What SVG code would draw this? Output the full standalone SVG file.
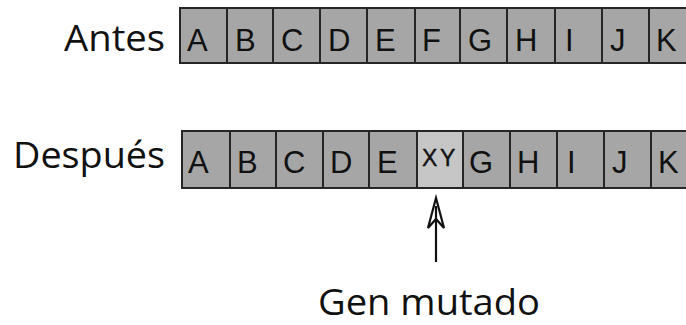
<svg xmlns="http://www.w3.org/2000/svg" width="686" height="325" viewBox="0 0 686 325">
  <style>
    .cell { fill: #a6a6a6; stroke: #262626; stroke-width: 2; }
    .cell.mut { fill: #c6c6c6; }
    .gene { font-family: "Liberation Sans", Arial, sans-serif; font-size: 31px; fill: #111; }
    .gene.small { font-size: 23px; stroke: #111; stroke-width: 0.4; }
    .label { font-family: "Open Sans", "Noto Sans", sans-serif; font-size: 37px; fill: #111; }
    .arrow { fill: none; stroke: #111; stroke-width: 2.2; stroke-linejoin: miter; }
  </style>

  <!-- Row labels -->
  <g id="label-antes"><text class="label" x="165" y="51" text-anchor="end" textLength="101" lengthAdjust="spacingAndGlyphs">Antes</text></g>
  <g id="label-despues"><text class="label" x="165" y="168" text-anchor="end" textLength="152" lengthAdjust="spacingAndGlyphs">Después</text></g>

  <!-- Chromosome before mutation -->
  <g id="row-antes">
    <rect class="cell" x="180" y="8" width="47" height="55"/>
    <rect class="cell" x="227" y="8" width="46" height="55"/>
    <rect class="cell" x="273" y="8" width="47" height="55"/>
    <rect class="cell" x="320" y="8" width="47" height="55"/>
    <rect class="cell" x="367" y="8" width="48" height="55"/>
    <rect class="cell" x="415" y="8" width="45" height="55"/>
    <rect class="cell" x="460" y="8" width="47" height="55"/>
    <rect class="cell" x="507" y="8" width="48" height="55"/>
    <rect class="cell" x="555" y="8" width="47" height="55"/>
    <rect class="cell" x="602" y="8" width="47" height="55"/>
    <rect class="cell" x="649" y="8" width="47" height="55"/>
    <text class="gene" x="187" y="51">A</text>
    <text class="gene" x="235" y="51">B</text>
    <text class="gene" x="281" y="51">C</text>
    <text class="gene" x="328" y="51">D</text>
    <text class="gene" x="375" y="51">E</text>
    <text class="gene" x="422" y="51">F</text>
    <text class="gene" x="468" y="51">G</text>
    <text class="gene" x="515" y="51">H</text>
    <text class="gene" x="565" y="51">I</text>
    <text class="gene" x="610" y="51">J</text>
    <text class="gene" x="656" y="51">K</text>
  </g>

  <!-- Chromosome after mutation -->
  <g id="row-despues">
    <rect class="cell" x="182" y="131" width="48" height="57"/>
    <rect class="cell" x="230" y="131" width="46" height="57"/>
    <rect class="cell" x="276" y="131" width="47" height="57"/>
    <rect class="cell" x="323" y="131" width="46" height="57"/>
    <rect class="cell" x="369" y="131" width="48" height="57"/>
    <rect class="cell mut" x="417" y="131" width="46" height="57"/>
    <rect class="cell" x="463" y="131" width="47" height="57"/>
    <rect class="cell" x="510" y="131" width="47" height="57"/>
    <rect class="cell" x="557" y="131" width="47" height="57"/>
    <rect class="cell" x="604" y="131" width="47" height="57"/>
    <rect class="cell" x="651" y="131" width="47" height="57"/>
    <text class="gene" x="188" y="173">A</text>
    <text class="gene" x="237" y="173">B</text>
    <text class="gene" x="283" y="173">C</text>
    <text class="gene" x="330" y="173">D</text>
    <text class="gene" x="377" y="173">E</text>
    <text class="gene small" x="422 440" y="166">XY</text>
    <text class="gene" x="469" y="173">G</text>
    <text class="gene" x="517" y="173">H</text>
    <text class="gene" x="567" y="173">I</text>
    <text class="gene" x="612" y="173">J</text>
    <text class="gene" x="658" y="173">K</text>
  </g>

  <!-- Pointer to the mutated gene -->
  <g id="connectors">
    <line class="arrow" x1="436" y1="262" x2="436" y2="206"/>
    <path class="arrow" d="M436,198 L428,228 L436,219 L444,228 Z"/>
  </g>

  <g id="label-gen-mutado"><text class="label" x="318" y="315" textLength="222" lengthAdjust="spacingAndGlyphs">Gen mutado</text></g>
</svg>
